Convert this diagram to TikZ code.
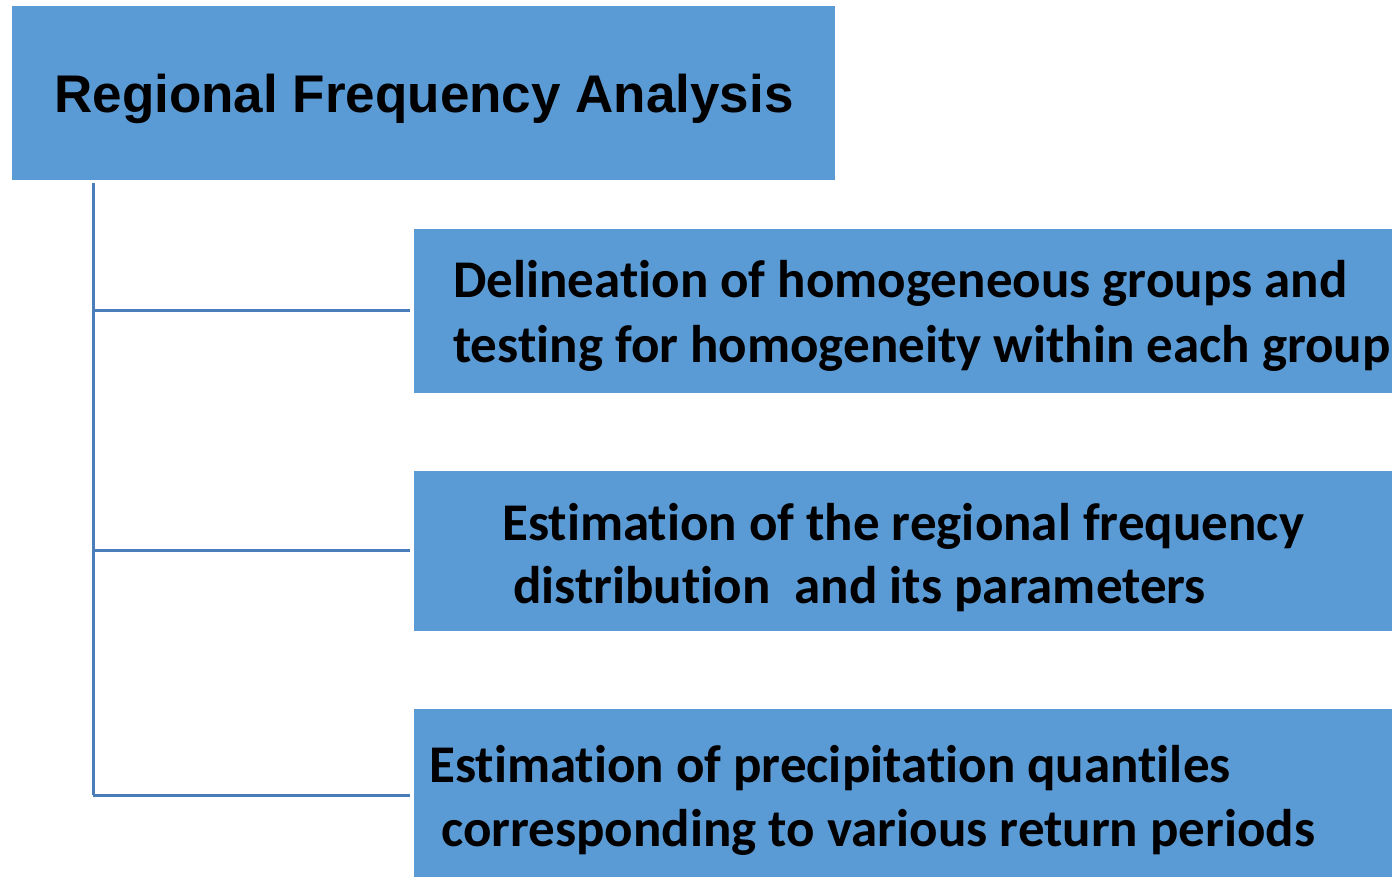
\documentclass[tikz,border=0pt]{standalone}
\usepackage{fontspec}
\setmainfont[Ligatures=NoCommon]{Carlito}
\newfontfamily\headfont{Liberation Sans}
\usetikzlibrary{calc}

\definecolor{boxblue}{HTML}{5B9BD5}
\definecolor{linkblue}{HTML}{4A7EBB}

\begin{document}
\begin{tikzpicture}[x=1pt, y=-1pt,
        box/.style={fill=boxblue, inner sep=0pt, outer sep=0pt},
        line/.style={anchor=base west, inner sep=0pt, font=\fontsize{53}{60}\selectfont\bfseries},
        link/.style={linkblue, line width=3pt}]
        \useasboundingbox (0, 0) rectangle (1392, 877);
        \clip (0, 0) rectangle (1392, 877);

        % title box
        \node [box, minimum width=823pt, minimum height=174pt] (rfa) at (423.5, 93) {};
        \node [anchor=base, inner sep=0pt, font=\headfont\fontsize{53}{60}\selectfont\bfseries] (title) at (424, 113) {Regional Frequency Analysis};

        % the three steps
        \node [box, anchor=north west, minimum width=1000pt, minimum height=164pt] (s1) at (414, 229) {};
        \node [box, anchor=north west, minimum width=1000pt, minimum height=160pt] (s2) at (414, 471) {};
        \node [box, anchor=north west, minimum width=1000pt, minimum height=175pt] (s3) at (414, 709) {};

        \node [line] (s1a) at (453, 298) {Delineation of homogeneous groups and};
        \node [line] (s1b) at (453, 362) {testing for homogeneity within each group};
        \node [line] (s2a) at (502, 540) {Estimation of the regional frequency};
        \node [line] (s2b) at (513, 603) {distribution\ \ and its parameters};
        \node [line] (s3a) at (429, 782) {Estimation of precipitation quantiles};
        \node [line] (s3b) at (441, 846) {corresponding to various return periods};

        % tree lines
        \coordinate (top) at (93, 183);
        \coordinate (k1) at (93, 311);
        \coordinate (k2) at (93, 550);
        \coordinate (k3) at (93, 795);
        \draw [link] (top) to (k3);
        \foreach \k in {1,2,3}
        {
            \draw [link] (k\k) to ($(k\k -| s\k.west) + (-4, 0)$);
        }
    \end{tikzpicture}
\end{document}
